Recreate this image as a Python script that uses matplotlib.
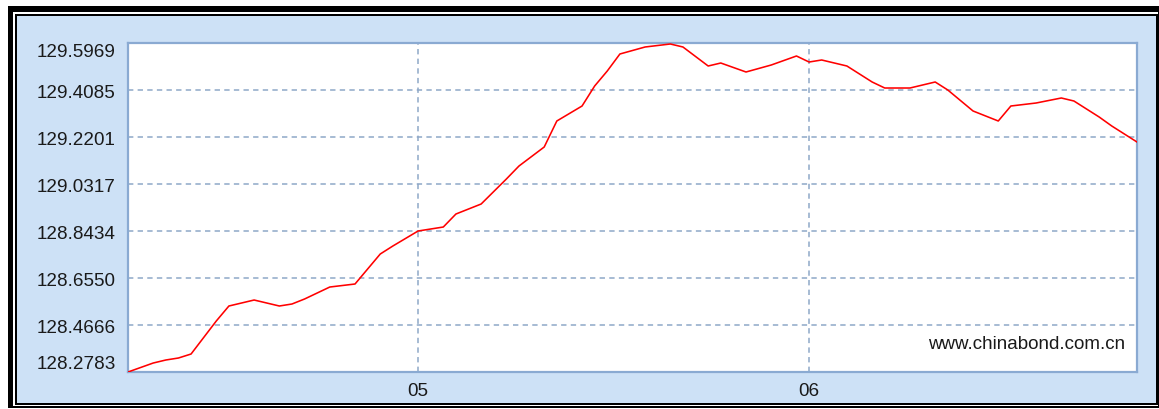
import pandas as pd
import numpy as np
import matplotlib
matplotlib.use("Agg")
import matplotlib.pyplot as plt
import matplotlib.dates as mdates
from matplotlib.patches import Rectangle

# price series
dates = ["2013-04-08", "2013-04-10", "2013-04-11", "2013-04-12", "2013-04-13",
         "2013-04-15", "2013-04-16", "2013-04-18", "2013-04-20", "2013-04-21",
         "2013-04-22", "2013-04-24", "2013-04-26", "2013-04-28", "2013-04-29",
         "2013-05-01", "2013-05-03", "2013-05-04", "2013-05-06", "2013-05-08",
         "2013-05-09", "2013-05-11", "2013-05-12", "2013-05-14", "2013-05-15",
         "2013-05-16", "2013-05-17", "2013-05-19", "2013-05-21", "2013-05-22",
         "2013-05-24", "2013-05-25", "2013-05-27", "2013-05-29", "2013-05-31",
         "2013-06-01", "2013-06-02", "2013-06-04", "2013-06-06", "2013-06-07",
         "2013-06-09", "2013-06-11", "2013-06-12", "2013-06-14", "2013-06-16",
         "2013-06-17", "2013-06-19", "2013-06-21", "2013-06-22", "2013-06-24",
         "2013-06-25", "2013-06-27"]
prices = [128.2783, 128.3143, 128.3264, 128.3344, 128.3504,
          128.4827, 128.5428, 128.5668, 128.5428, 128.5508,
          128.5709, 128.6189, 128.6310, 128.7512, 128.7833,
          128.8434, 128.8594, 128.9115, 128.9516, 129.0518,
          129.1039, 129.1801, 129.2843, 129.3444, 129.4246,
          129.4847, 129.5528, 129.5809, 129.5929, 129.5809,
          129.5047, 129.5167, 129.4807, 129.5087, 129.5448,
          129.5207, 129.5288, 129.5047, 129.4406, 129.4165,
          129.4165, 129.4406, 129.4085, 129.3244, 129.2843,
          129.3444, 129.3564, 129.3765, 129.3644, 129.3003,
          129.2642, 129.2001]
yticks = [128.2783, 128.4666, 128.6550, 128.8434, 129.0317, 129.2201, 129.4085, 129.5969]
month_ticks = ["2013-05-01", "2013-06-01"]

W, H = 1159, 410
font = ["Liberation Sans Narrow", "Liberation Sans", "DejaVu Sans"]
grid_col = "#8ea8c8"
panel_col = "#cde1f6"

fig = plt.figure(figsize=(W / 100, H / 100), dpi=100)
fig.patch.set_facecolor("white")

# frame drawn in pixel coordinates
bg = fig.add_axes([0, 0, 1, 1], zorder=0)
bg.set_xlim(0, W)
bg.set_ylim(H, 0)
bg.axis("off")
bg.add_patch(Rectangle((8, 7), W - 8, 402, color="black", lw=0))
bg.add_patch(Rectangle((13, 13), 1157.5 - 13, 407 - 13, color="white", lw=0))
bg.add_patch(Rectangle((15, 15), 1157.5 - 15, 406 - 15, color="black", lw=0))
bg.add_patch(Rectangle((17, 17), 1156 - 17, 404 - 17, color=panel_col, lw=0))

ax = fig.add_axes([128 / W, (H - 373) / H, (1137 - 128) / W, (373 - 44) / H], zorder=1)
ax.set_facecolor("white")

x = pd.to_datetime(dates)
ax.plot(x, prices, color="#ff0000", lw=1.15, zorder=3)

ax.set_xlim(x[0], x[-1])
ax.set_ylim(yticks[0], yticks[-1])

ax.set_yticks(yticks)
ax.set_yticklabels([f"{v:.4f}" for v in yticks], family=font, fontsize=13.6, color="#1a1a1a")
labels = ax.get_yticklabels()
labels[0].set_verticalalignment("bottom")
labels[-1].set_verticalalignment("top")

ax.set_xticks(pd.to_datetime(month_ticks))
ax.xaxis.set_major_formatter(mdates.DateFormatter("%m"))
for lab in ax.get_xticklabels():
    lab.set_family(font)
    lab.set_fontsize(13.6)
    lab.set_color("#1a1a1a")

ax.tick_params(axis="y", length=0, pad=9)
ax.tick_params(axis="x", length=0, pad=7)
ax.grid(True, color=grid_col, lw=1.1, linestyle=(0, (3.5, 2.8)))

for s in ax.spines.values():
    s.set_color("#8aaad2")
    s.set_linewidth(1.6)

ax.text(0.9887, 0.087, "www.chinabond.com.cn", transform=ax.transAxes,
        ha="right", va="center", family=font, fontsize=13.5, color="#1a1a1a")

fig.savefig("out.png", dpi=100)
